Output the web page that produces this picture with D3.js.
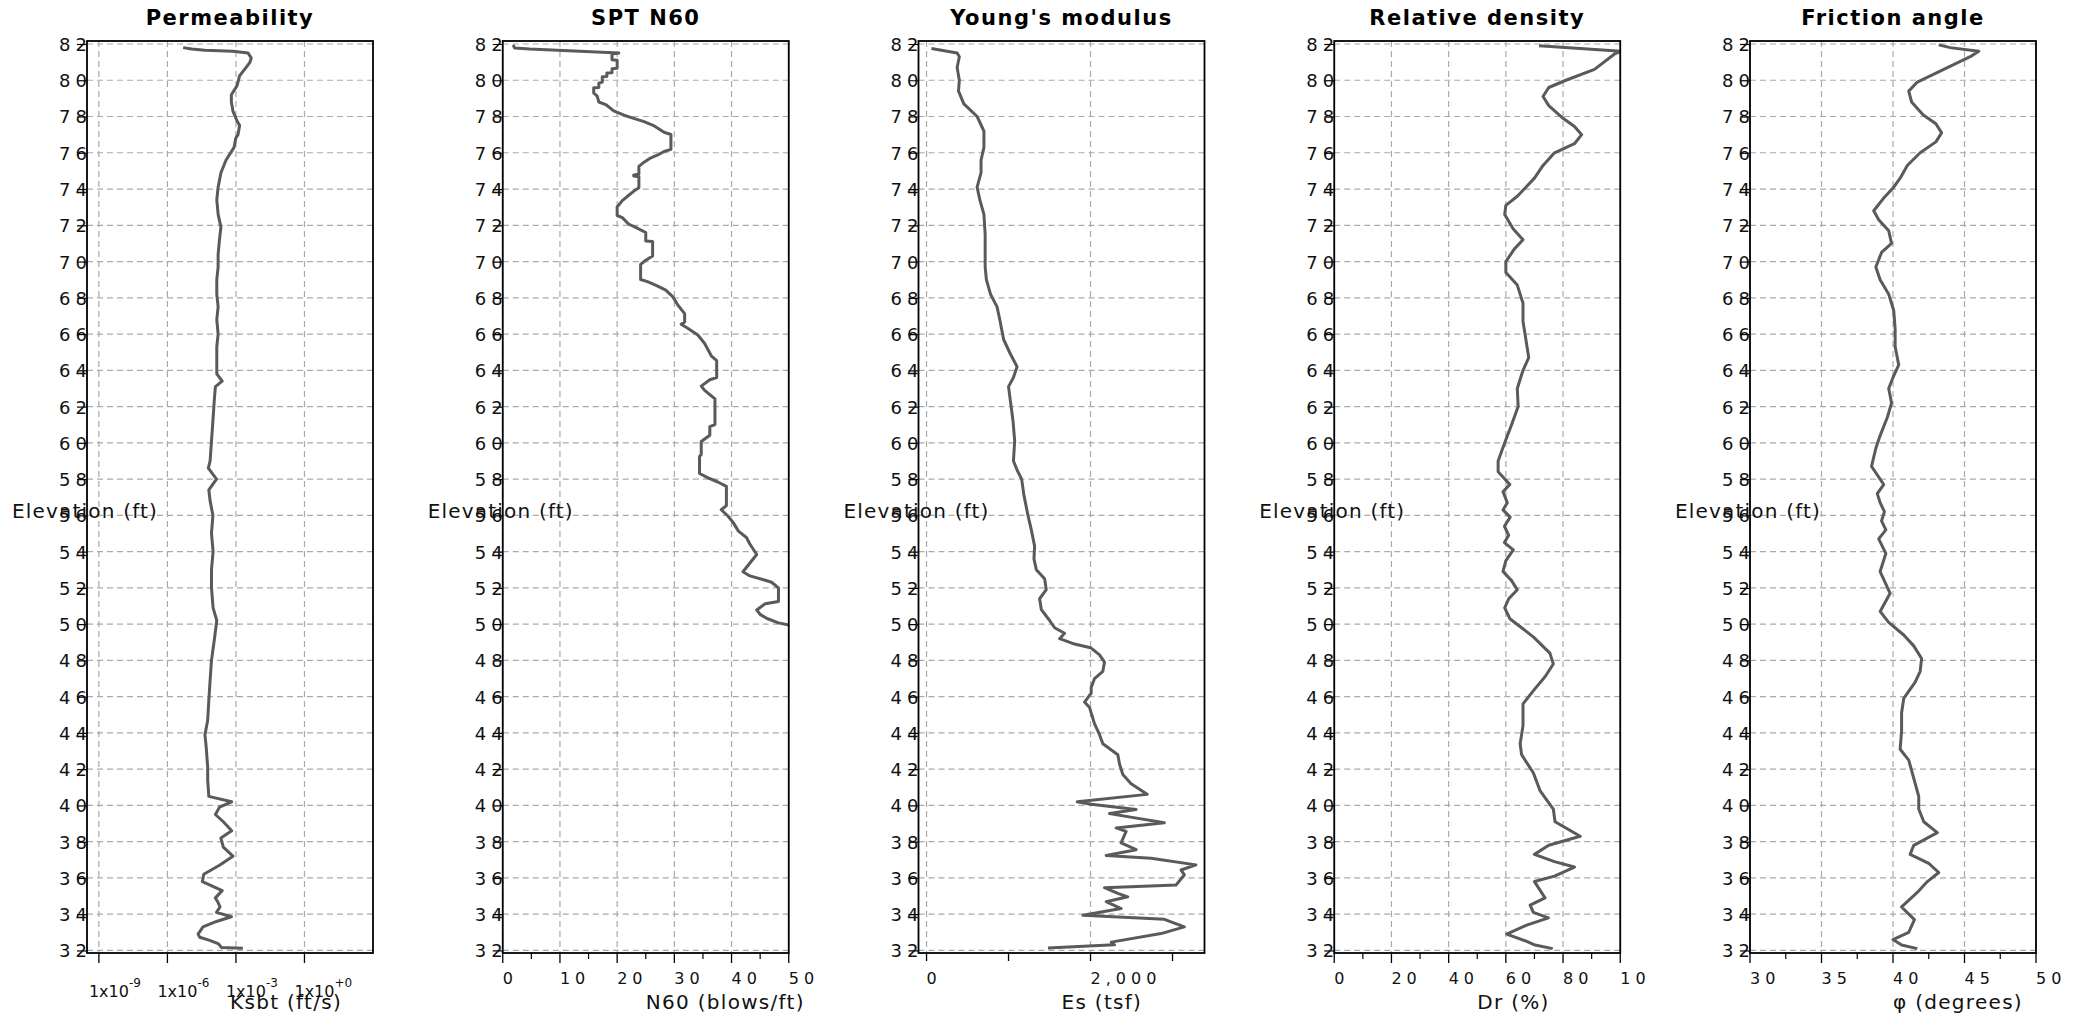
<!DOCTYPE html>
<html><head><meta charset="utf-8">
<script src="https://cdn.jsdelivr.net/npm/d3@7"></script>
<style>html,body{margin:0;padding:0;background:#fff;}svg{display:block;}</style>
</head><body>
<script>
// ---------------- data ----------------
const elevTicks = d3.range(32, 83, 2);

const permElev = [81.8,81.72,81.65,81.6,81.5,81.23,80.97,80.6,80.25,79.7,79.5,79.2,78.8,78.3,77.75,77.5,77.0,76.8,76.3,75.6,74.9,74.1,73.4,72.6,71.9,71.2,70.4,69.7,69.0,68.2,67.5,66.8,66.0,65.3,64.5,63.8,63.4,63.1,62.3,61.2,60.1,59.0,58.6,58.0,57.4,56.8,56.0,55.0,54.0,53.0,52.0,50.9,50.2,49.1,48.0,46.9,45.8,44.7,43.9,43.2,42.1,41.4,40.5,40.2,39.9,39.5,39.1,38.6,38.2,37.7,37.2,36.7,36.2,35.8,35.3,34.9,34.64,34.4,34.1,33.86,33.6,33.3,32.9,32.73,32.56,32.38,32.17,32.12];
const permKsbt = [4.9e-6,1.15e-5,4.4e-5,7.4e-4,3.4e-3,4.7e-3,4.0e-3,2.4e-3,1.45e-3,1.12e-3,8.9e-4,6.3e-4,6.3e-4,7.4e-4,1.12e-3,1.45e-3,1.23e-3,9.8e-4,8.3e-4,3.7e-4,2.2e-4,1.66e-4,1.45e-4,1.66e-4,2.2e-4,1.9e-4,1.66e-4,1.66e-4,1.45e-4,1.45e-4,1.66e-4,1.45e-4,1.66e-4,1.45e-4,1.45e-4,1.45e-4,2.5e-4,1.26e-4,1.12e-4,9.8e-5,8.5e-5,7.4e-5,6.2e-5,1.41e-4,6.5e-5,7.4e-5,9.8e-5,8.5e-5,1.0e-4,8.5e-5,8.5e-5,1.0e-4,1.45e-4,1.12e-4,8.5e-5,7.4e-5,6.5e-5,5.8e-5,4.4e-5,5.0e-5,5.8e-5,5.8e-5,6.5e-5,6.5e-4,1.9e-4,1.26e-4,2.8e-4,6.5e-4,2.2e-4,2.8e-4,7.4e-4,1.9e-4,3.9e-5,3.4e-5,2.5e-4,1.26e-4,1.66e-4,2.0e-4,1.41e-4,6.3e-4,1.41e-4,3.6e-5,2.2e-5,2.6e-5,7.1e-5,1.66e-4,2.3e-4,2.0e-3];

const sptElev = [81.95,81.78,81.72,81.5,81.45,81.13,81.1,80.66,80.63,80.42,80.4,80.2,80.19,79.9,79.84,79.6,79.58,79.3,79.13,78.8,78.66,78.31,78.07,77.9,77.72,77.48,77.13,77.01,76.19,76.07,75.88,75.72,75.48,75.25,74.82,74.78,74.72,74.68,74.07,73.95,73.6,73.36,73.01,72.54,72.42,72.07,71.84,71.6,71.13,71.1,70.31,70.07,69.84,69.01,68.89,68.66,68.42,68.07,67.6,67.13,66.66,66.54,66.31,65.95,65.48,64.78,64.54,63.6,63.48,63.13,62.89,62.42,61.01,60.89,60.42,60.07,59.36,59.25,58.31,58.07,57.84,57.6,56.54,56.31,55.95,55.6,55.13,54.78,54.42,53.84,53.25,52.89,52.66,52.42,52.31,52.0,51.25,51.13,50.78,50.54,50.31,50.07,49.95,49.8];
const sptN60 = [1.8,2.1,4.7,20.3,19.1,19.1,20.0,20.0,19.1,19.1,18.2,18.2,17.4,17.4,16.8,16.8,15.9,15.9,16.5,16.8,18.0,19.4,21.2,22.9,24.7,26.5,28.2,29.4,29.4,28.2,27.1,25.9,24.7,23.8,23.8,22.9,22.9,23.8,23.8,23.2,21.8,20.9,20.0,20.0,20.9,22.0,23.5,25.0,25.0,26.2,26.2,25.0,24.1,24.1,25.3,27.0,28.5,29.7,30.6,31.8,31.8,31.2,32.4,34.1,35.3,36.5,37.4,37.4,36.2,34.7,35.3,37.1,37.1,36.2,36.2,34.7,34.7,34.4,34.4,35.9,37.6,39.1,39.1,38.2,39.4,40.3,41.2,42.6,43.2,44.4,42.9,42.0,43.2,45.9,47.0,48.2,48.2,45.9,44.4,45.0,46.2,48.2,50.0,52.4];

const esElev = [81.75,81.5,81.3,80.7,80.0,79.4,78.7,78.0,77.2,76.3,75.6,74.9,74.1,73.4,72.6,71.5,70.8,69.7,69.0,68.2,67.5,66.8,65.7,64.9,64.2,63.6,63.1,62.3,61.2,60.1,59.0,58.5,58.0,57.1,56.0,55.2,54.3,53.6,53.0,52.5,51.9,51.4,50.8,50.2,49.8,49.5,49.2,48.9,48.7,48.3,47.9,47.4,47.0,46.5,46.2,45.7,45.4,44.5,43.9,43.4,42.8,42.3,41.7,41.2,40.61,40.2,40.06,39.78,39.56,39.41,39.04,38.76,38.57,37.93,37.56,37.24,37.09,36.72,36.44,36.17,35.61,35.46,35.15,34.96,34.69,34.31,33.94,33.72,33.3,32.93,32.46,32.31,32.13];
const esTsf = [60,373,400,373,400,390,455,617,700,700,665,665,617,650,700,715,715,715,730,780,860,893,940,1023,1104,1060,1000,1023,1055,1075,1060,1104,1160,1188,1237,1278,1318,1310,1339,1440,1460,1379,1400,1501,1562,1683,1623,1805,2000,2110,2170,2150,2049,2008,2008,1927,1988,2049,2110,2150,2333,2353,2394,2495,2690,1838,2008,2556,2231,2414,2901,2312,2434,2373,2556,2191,2738,3286,3104,3144,3043,2170,2333,2454,2191,2373,1907,2901,3144,2860,2252,2292,1481];

const drElev = [81.9,81.6,81.45,80.6,80.0,79.6,79.1,78.6,77.9,77.45,77.0,76.5,76.0,75.3,74.6,74.1,73.6,73.1,72.6,71.8,71.2,70.7,70.0,69.4,68.7,67.7,66.7,65.7,64.7,64.0,63.0,62.0,61.0,60.0,59.0,58.4,57.7,57.3,56.7,56.3,55.9,55.4,54.9,54.5,54.1,53.5,52.9,52.4,51.9,51.4,50.9,50.3,49.8,49.3,48.4,47.8,47.1,46.4,45.6,44.4,43.4,42.8,41.8,40.8,39.8,39.1,38.3,37.8,37.3,36.9,36.6,36.1,35.8,34.9,34.5,34.1,33.8,33.4,32.9,32.5,32.3,32.1];
const drPct = [71.6,100.5,98,91,81,75,73,75,80,84,86.5,84,77,73,70,67,64,60,59.6,62.6,66,63,60,60,64,66,66,67,68,66,64,64.3,62,59.6,57.3,57.3,61.4,59,60.5,59,61.5,59.5,61,59.5,62.6,60,59,62,64,61,59.6,61.4,65.5,69.6,75.4,76.6,73.7,70,66,66,65,65.5,69.6,72,76.6,77.2,86,75,70,77,84,77,70,73.7,68.5,69.6,74.9,67.3,60.3,67.3,70.2,76.4];

const phiElev = [81.95,81.8,81.6,81.3,80.6,79.9,79.4,78.8,78.1,77.6,77.1,76.6,76.0,75.3,74.6,74.1,73.5,72.8,72.3,71.7,71.0,70.5,69.7,69.0,68.2,67.3,66.3,65.3,64.3,63.7,63.0,62.2,61.4,60.4,59.7,58.7,57.7,57.2,56.7,56.2,55.7,55.2,54.7,53.9,52.9,51.7,50.7,50.1,49.4,48.8,48.1,47.4,46.8,45.9,45.1,44.1,43.1,42.5,41.5,40.5,39.8,39.1,38.5,37.8,37.3,36.8,36.3,35.8,35.2,34.4,33.7,33.0,32.6,32.3,32.1];
const phiDeg = [43.2,44.0,46.0,45.4,43.55,41.7,41.1,41.3,42.1,43.0,43.4,43.0,41.9,41.0,40.5,40.05,39.35,38.65,39.0,39.7,39.9,39.2,38.8,39.1,39.7,40.05,40.15,40.15,40.4,40.05,39.7,39.9,39.6,39.1,38.8,38.5,39.35,38.9,39.1,39.4,39.2,39.5,39.0,39.5,39.1,39.8,39.1,39.7,40.75,41.45,42.0,41.9,41.55,40.75,40.6,40.6,40.5,41.1,41.45,41.8,41.8,42.15,43.1,41.45,41.2,42.5,43.2,42.4,41.7,40.6,41.5,41.1,40.0,40.6,41.7];

const titles = ["Permeability", "SPT N60", "Young's modulus", "Relative density", "Friction angle"];
const xTitles = ["Ksbt (ft/s)", "N60 (blows/ft)", "Es (tsf)", "Dr (%)", "\u03c6 (degrees)"];
const permTicks = [1e-9, 1e-6, 1e-3, 1e0];
const permTickExp = ["-9", "-6", "-3", "+0"];
const sptTicks = [0, 10, 20, 30, 40, 50];
const esTicks = [0, 1000, 2000, 3000];
const esLabeled = [0, 2000];
const drTicks = [0, 20, 40, 60, 80, 100];
const phiTicks = [30, 35, 40, 45, 50];

// ---------------- layout ----------------
const W = 2085, H = 1019;
const plotTop = 41, plotBottom = 953, pw = 286, ml = 87, step = 415.75, clipRight = 28;
const FONT = "DejaVu Sans, Verdana, sans-serif";
const LINE = "#5a5a5a";

const svg = d3.select("body").append("svg").attr("width", W).attr("height", H)
  .style("font-family", FONT);
svg.append("rect").attr("width", W).attr("height", H).attr("fill", "#fff");

const y = d3.scaleLinear().domain([31.86, 82.165]).range([plotBottom, plotTop]);

const panels = [
  {elev: permElev, vals: permKsbt, x: d3.scaleLog().domain([Math.pow(10, -9.52), 1e3]).range([0, pw]),
   grid: permTicks, major: permTicks, minor: [], labeled: permTicks, log: true},
  {elev: sptElev, vals: sptN60, x: d3.scaleLinear().domain([0, 50]).range([0, pw]),
   grid: sptTicks, major: sptTicks, minor: [5, 15, 25, 35, 45], labeled: sptTicks},
  {elev: esElev, vals: esTsf, x: d3.scaleLinear().domain([-98, 3390]).range([0, pw]),
   grid: esLabeled, major: esTicks, minor: [], labeled: esLabeled, fmt: d3.format(","), tickLen: 8},
  {elev: drElev, vals: drPct, x: d3.scaleLinear().domain([0, 100]).range([0, pw]),
   grid: drTicks, major: drTicks, minor: [10, 30, 50, 70, 90], labeled: drTicks},
  {elev: phiElev, vals: phiDeg, x: d3.scaleLinear().domain([30, 50]).range([0, pw]),
   grid: phiTicks, major: phiTicks, minor: [32.5, 37.5, 42.5, 47.5], labeled: phiTicks}
];

const defs = svg.append("defs");

panels.forEach((p, i) => {
  const ox = i * step;
  const outer = svg.append("svg").attr("x", ox).attr("y", 0)
    .attr("width", ml + pw + clipRight).attr("height", H).style("overflow", "hidden");
  const g = outer.append("g").attr("transform", `translate(${ml},0)`);
  const x = p.x;

  // grid
  g.append("g").selectAll("line").data(elevTicks).join("line")
    .attr("x1", 0).attr("x2", pw).attr("y1", d => y(d)).attr("y2", d => y(d))
    .attr("stroke", "#aaa").attr("stroke-width", 1.2).attr("stroke-dasharray", "6,4");
  g.append("g").selectAll("line").data(p.grid).join("line")
    .attr("x1", d => x(d)).attr("x2", d => x(d)).attr("y1", plotTop).attr("y2", plotBottom)
    .attr("stroke", "#aaa").attr("stroke-width", 1.2).attr("stroke-dasharray", "6,4");

  // line
  const cid = "clip" + i;
  defs.append("clipPath").attr("id", cid).append("rect")
    .attr("x", 0).attr("y", plotTop).attr("width", pw).attr("height", plotBottom - plotTop);
  const data = p.elev.map((e, k) => ({e: e, v: p.vals[k]})).filter(d => d.v !== undefined);
  const line = d3.line().x(d => x(d.v)).y(d => y(d.e));
  g.append("path").datum(data).attr("clip-path", `url(#${cid})`)
    .attr("d", line).attr("fill", "none").attr("stroke", LINE)
    .attr("stroke-width", 3).attr("stroke-linejoin", "round");

  // frame
  g.append("rect").attr("x", 0).attr("y", plotTop).attr("width", pw).attr("height", plotBottom - plotTop)
    .attr("fill", "none").attr("stroke", "#000").attr("stroke-width", 1.8);

  // y axis
  const ya = g.append("g").call(d3.axisLeft(y).tickValues(elevTicks).tickSize(10).tickFormat(d3.format("d")));
  ya.select(".domain").remove();
  ya.selectAll(".tick line").attr("stroke", "#000").attr("stroke-width", 1.2);
  ya.selectAll(".tick text").attr("x", 5).attr("dy", "0.36em")
    .style("font-family", FONT).style("font-size", "18px").style("letter-spacing", "5px")
    .attr("fill", "#111");

  // x axis ticks
  const xa = g.append("g").attr("transform", `translate(0,${plotBottom})`);
  xa.selectAll("line.maj").data(p.major).join("line").attr("class", "maj")
    .attr("x1", d => x(d)).attr("x2", d => x(d)).attr("y1", 0).attr("y2", p.tickLen || 10)
    .attr("stroke", "#000").attr("stroke-width", 1.3);
  xa.selectAll("line.min").data(p.minor).join("line").attr("class", "min")
    .attr("x1", d => x(d)).attr("x2", d => x(d)).attr("y1", 0).attr("y2", 6)
    .attr("stroke", "#000").attr("stroke-width", 1.2);

  if (p.log) {
    const t = xa.selectAll("text").data(p.labeled).join("text")
      .attr("x", d => x(d) - 10).attr("y", 44).attr("text-anchor", "start")
      .style("font-size", "16px").attr("fill", "#111");
    t.append("tspan").text("1x10");
    t.append("tspan").attr("dy", -10).style("font-size", "12px").text((d, k) => permTickExp[k]);
  } else {
    const f = p.fmt || d3.format("d");
    xa.selectAll("text").data(p.labeled).join("text")
      .attr("x", d => x(d)).attr("y", 31).attr("text-anchor", "start")
      .style("font-size", "16px").style("letter-spacing", "5px").attr("fill", "#111")
      .text(d => f(d));
  }

  // axis title
  g.append("text").attr("x", pw / 2).attr("y", 1009).attr("text-anchor", "start")
    .style("font-size", "20px").style("letter-spacing", "1.3px").attr("fill", "#111")
    .text(xTitles[i]);

  // panel title
  g.append("text").attr("x", pw / 2).attr("y", 25).attr("text-anchor", "middle")
    .style("font-size", "21px").style("font-weight", "bold").style("letter-spacing", "1.5px")
    .attr("fill", "#000").text(titles[i]);

  // elevation label (drawn horizontally over the tick labels, as in the reference)
  g.append("text").attr("x", -2).attr("y", 518).attr("text-anchor", "middle")
    .style("font-size", "20px").style("letter-spacing", "1.2px").attr("fill", "#111")
    .text("Elevation (ft)");
});
</script>
</body></html>
